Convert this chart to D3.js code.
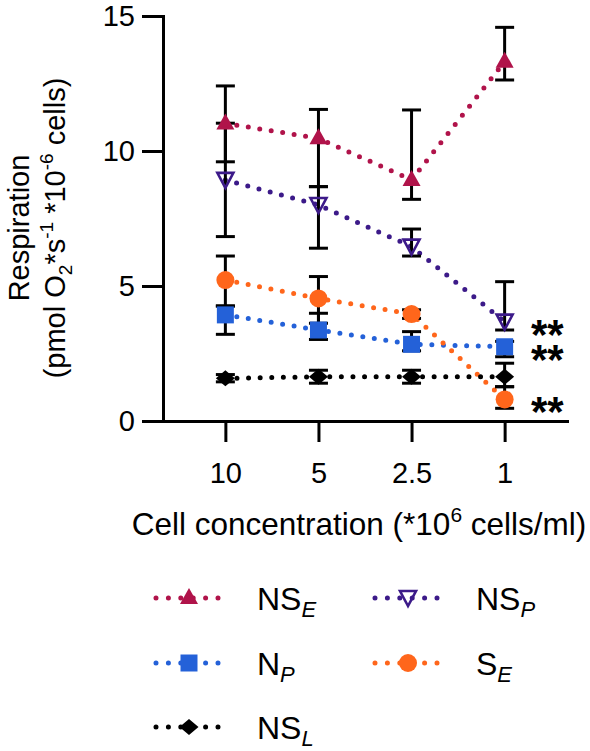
<!DOCTYPE html>
<html>
<head>
<meta charset="utf-8">
<script src="https://cdn.jsdelivr.net/npm/d3@7"></script>
<style>
  body { margin: 0; background: #fff; }
  svg { display: block; font-family: "Liberation Sans", Arial, sans-serif; }
</style>
</head>
<body>
<svg id="chart" width="590" height="751"></svg>
<script>
// cell concentration (*10^6 cells/ml)
const categories = ["10", "5", "2.5", "1"];
const yTicks = [0, 5, 10, 15];

// means and error bar ends
const nsE   = [11.02, 10.47, 8.93, 13.31];
const nsELo = [9.60, 8.68, 8.21, 12.63];
const nsEHi = [12.41, 11.54, 11.52, 14.58];

const nsP   = [8.93, 8.00, 6.46, 3.68];
const nsPLo = [6.83, 6.40, 6.11, 3.37];
const nsPHi = [11.03, 8.68, 7.11, 5.16];

const nP   = [3.93, 3.37, 2.84, 2.75];
const nPLo = [3.21, 3.02, 2.60, 2.38];
const nPHi = [4.26, 3.99, 3.31, 2.95];

const sE   = [5.22, 4.54, 3.96, 0.80];
const sELo = [4.26, 3.62, 3.80, 0.47];
const sEHi = [6.11, 5.35, 4.12, 1.27];

const nsL   = [1.58, 1.64, 1.64, 1.64];
const nsLLo = [1.45, 1.40, 1.40, 1.27];
const nsLHi = [1.72, 1.88, 1.88, 2.14];

// significance marks at the last concentration
const starSeries = ["NSP", "NP", "SE"];

const series = [
    {key: "NSE", main: "NS", sub: "E", color: "#b0134a", shape: "tri", values: nsE, lo: nsELo, hi: nsEHi},
    {key: "NSP", main: "NS", sub: "P", color: "#3c1a89", shape: "invtri", values: nsP, lo: nsPLo, hi: nsPHi},
    {key: "NP", main: "N", sub: "P", color: "#2461d8", shape: "square", values: nP, lo: nPLo, hi: nPHi},
    {key: "SE", main: "S", sub: "E", color: "#ff661b", shape: "circle", values: sE, lo: sELo, hi: sEHi},
    {key: "NSL", main: "NS", sub: "L", color: "#000000", shape: "diamond", values: nsL, lo: nsLLo, hi: nsLHi}
];

const svg = d3.select("#chart");
const plot = {left: 163, right: 567, top: 16, bottom: 421};

const x = d3.scalePoint().domain(categories).range([plot.left, plot.right]).padding(0.67);
const y = d3.scaleLinear().domain([0, 15]).range([plot.bottom, plot.top]);

function markerPath(shape) {
    if (shape === "tri") return "M0,-10L9,6L-9,6Z";
    if (shape === "invtri") return "M0,8L-8,-7L8,-7Z";
    if (shape === "square") return "M-8.5,-8.5H8.5V8.5H-8.5Z";
    if (shape === "diamond") return "M-9.5,0L0,-8L9.5,0L0,8Z";
    return d3.symbol(d3.symbolCircle, Math.PI * 9 * 9)();
}

function drawMarker(g, s) {
    const p = g.append("path").attr("d", markerPath(s.shape));
    if (s.shape === "invtri") {
        p.attr("fill", "none").attr("stroke", s.color).attr("stroke-width", 2.6).attr("stroke-linejoin", "miter");
    } else {
        p.attr("fill", s.color);
    }
}

// axes
const yAxis = svg.append("g")
    .attr("transform", `translate(${plot.left},0)`)
    .call(d3.axisLeft(y).tickValues(yTicks).tickSize(21).tickSizeOuter(0).tickPadding(7));
const xAxis = svg.append("g")
    .attr("transform", `translate(0,${plot.bottom})`)
    .call(d3.axisBottom(x).tickSize(21).tickSizeOuter(0).tickPadding(20));

[yAxis, xAxis].forEach(a => {
    a.selectAll("path, line").attr("stroke", "#000").attr("stroke-width", 3);
    a.select(".domain").attr("stroke-linecap", "square");
    a.selectAll("text").attr("font-size", 29).attr("fill", "#000")
        .attr("font-family", "'Liberation Sans', Arial, sans-serif");
});

// y title, two lines
const yTitle = svg.append("g").attr("transform", "rotate(-90)");
yTitle.append("text")
    .attr("x", -228).attr("y", 29)
    .attr("text-anchor", "middle").attr("font-size", 29)
    .text("Respiration");
const yt2 = yTitle.append("text")
    .attr("x", -228).attr("y", 65)
    .attr("text-anchor", "middle").attr("font-size", 29);
yt2.append("tspan").text("(pmol O");
yt2.append("tspan").attr("font-size", 19).attr("dy", 7).text("2");
yt2.append("tspan").attr("dy", -7).text("*s");
yt2.append("tspan").attr("font-size", 19).attr("dy", -12).text("-1");
yt2.append("tspan").attr("dy", 12).text(" *10");
yt2.append("tspan").attr("font-size", 19).attr("dy", -12).text("-6");
yt2.append("tspan").attr("dy", 12).text(" cells)");

// x title
const xt = svg.append("text")
    .attr("x", 359).attr("y", 535)
    .attr("text-anchor", "middle").attr("font-size", 31.5);
xt.append("tspan").text("Cell concentration (*10");
xt.append("tspan").attr("font-size", 21).attr("dy", -13).text("6");
xt.append("tspan").attr("dy", 13).text(" cells/ml)");

// dotted connecting lines
const line = d3.line().x((d, i) => x(categories[i])).y(d => y(d));
svg.append("g").selectAll("path")
    .data(series)
    .join("path")
    .attr("d", s => line(s.values))
    .attr("fill", "none")
    .attr("stroke", s => s.color)
    .attr("stroke-width", 5)
    .attr("stroke-linecap", "round")
    .attr("stroke-dasharray", "0 11.6");

// error bars
const errG = svg.append("g").attr("stroke", "#000").attr("stroke-width", 3);
series.forEach(s => {
    categories.forEach((c, i) => {
        const cx = x(c);
        errG.append("line").attr("x1", cx).attr("x2", cx).attr("y1", y(s.lo[i])).attr("y2", y(s.hi[i]));
        [s.lo[i], s.hi[i]].forEach(v => {
            errG.append("line").attr("x1", cx - 9.5).attr("x2", cx + 9.5).attr("y1", y(v)).attr("y2", y(v));
        });
    });
});

// markers
series.forEach(s => {
    s.values.forEach((v, i) => {
        const g = svg.append("g").attr("transform", `translate(${x(categories[i])},${y(v)})`);
        drawMarker(g, s);
    });
});

// asterisks, one text block with a line per significant series
const last = categories.length - 1;
svg.append("text")
    .attr("font-size", 42)
    .attr("font-weight", "bold")
    .selectAll("tspan")
    .data(series.filter(s => starSeries.includes(s.key)))
    .join("tspan")
    .attr("x", 531)
    .attr("y", s => y(s.values[last]) + 27)
    .text("**");

// legend
const legendRows = [598, 663, 727];
const legendCols = [156, 375];
series.forEach((s, i) => {
    const lx = legendCols[i % 2];
    const ly = legendRows[Math.floor(i / 2)];
    const g = svg.append("g").attr("transform", `translate(${lx},${ly})`);
    g.append("line")
        .attr("x1", 0).attr("x2", 62)
        .attr("stroke", s.color).attr("stroke-width", 5)
        .attr("stroke-linecap", "round").attr("stroke-dasharray", "0 12.4");
    const m = g.append("g").attr("transform", "translate(33,0)");
    drawMarker(m, s);
    const t = g.append("text").attr("x", 101).attr("y", 12).attr("font-size", 32);
    t.append("tspan").text(s.main);
    t.append("tspan").attr("font-size", 22).attr("font-style", "italic").attr("dy", 7).text(s.sub);
});
</script>
</body>
</html>
